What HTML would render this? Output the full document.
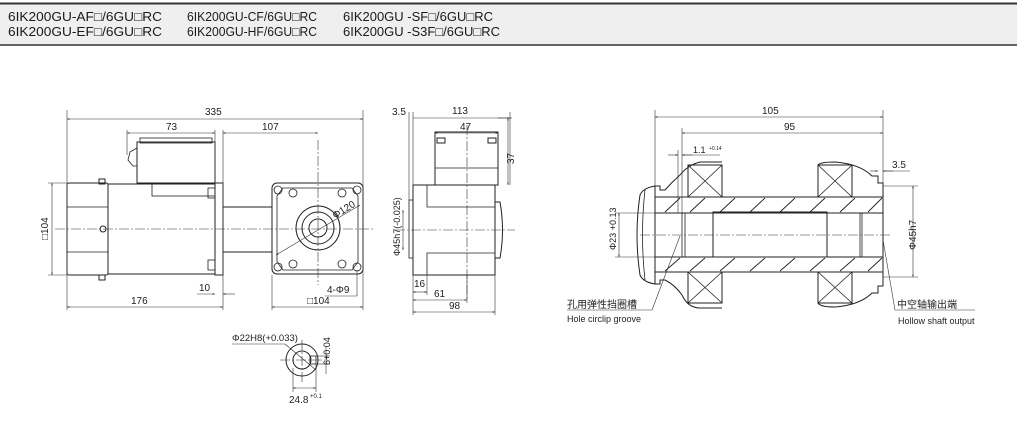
<!DOCTYPE html>
<html><head><meta charset="utf-8"><style>
html,body{margin:0;padding:0;background:#fff;}
svg{display:block;font-family:"Liberation Sans","Noto Sans CJK SC",sans-serif;}
.o{stroke:#222;stroke-width:1;fill:none}
.t{stroke:#222;stroke-width:0.8;fill:none}
.d{stroke:#333;stroke-width:0.6;fill:none}
.c{stroke:#333;stroke-width:0.6;fill:none;stroke-dasharray:10 2 2 2}
.h{stroke:#222;stroke-width:0.9}
text{fill:#222;font-size:10px}
.hd{font-size:12.5px;fill:#1a1a1a}
</style></head><body>
<svg width="1017" height="431" viewBox="0 0 1017 431">
<defs>
<marker id="a" viewBox="0 0 10 10" refX="10" refY="5" markerWidth="6" markerHeight="4" orient="auto-start-reverse"><path d="M0,2 L10,5 L0,8z" fill="#222"/></marker>
</defs>
<rect x="0" y="3" width="1017" height="42" fill="#efefef"/>
<line x1="0" y1="3.5" x2="1017" y2="3.5" stroke="#333" stroke-width="2"/>
<line x1="0" y1="45" x2="1017" y2="45" stroke="#333" stroke-width="1.5"/>
<text class="hd" x="8" y="21" textLength="154" lengthAdjust="spacingAndGlyphs">6IK200GU-AF□/6GU□RC</text>
<text class="hd" x="8" y="36" textLength="154" lengthAdjust="spacingAndGlyphs">6IK200GU-EF□/6GU□RC</text>
<text class="hd" x="187" y="21" textLength="130" lengthAdjust="spacingAndGlyphs">6IK200GU-CF/6GU□RC</text>
<text class="hd" x="187" y="36" textLength="130" lengthAdjust="spacingAndGlyphs">6IK200GU-HF/6GU□RC</text>
<text class="hd" x="343" y="21" textLength="150" lengthAdjust="spacingAndGlyphs">6IK200GU -SF□/6GU□RC</text>
<text class="hd" x="343" y="36" textLength="157" lengthAdjust="spacingAndGlyphs">6IK200GU -S3F□/6GU□RC</text>

<g>
<rect class="o" x="67" y="183" width="41" height="92" rx="2"/>
<line class="t" x1="67" y1="207" x2="108" y2="207"/><line class="t" x1="67" y1="252" x2="108" y2="252"/>
<rect class="o" x="99" y="179" width="6" height="5" fill="#333"/><rect class="o" x="99" y="275" width="6" height="5" fill="#333"/>
<circle class="o" cx="103" cy="229" r="3"/>
<rect class="o" x="108" y="184" width="107" height="90"/>
<rect class="t" x="152" y="184" width="63" height="12"/>
<rect class="o" x="137" y="142" width="78" height="41"/>
<rect class="t" x="140" y="138" width="72" height="5"/>
<path class="t" d="M137,148 L130,152 L128,160 L133,166 L137,166"/>
<rect class="o" x="215" y="183" width="8" height="92"/>
<rect class="t" x="208" y="188" width="7" height="10"/><rect class="t" x="208" y="260" width="7" height="10"/>
<rect class="o" x="223" y="207" width="49" height="45"/>
<line class="t" x1="223" y1="183" x2="223" y2="275"/>
<rect class="o" x="272" y="183" width="91" height="91" rx="5"/>
<path class="t" d="M283,188 L352,188 L358,196 L358,262 L352,270 L283,270 L277,262 L277,196z"/>
<circle class="t" cx="278" cy="190" r="4"/><circle class="t" cx="357" cy="190" r="4"/><circle class="t" cx="278" cy="267" r="4"/><circle class="t" cx="357" cy="267" r="4"/>
<circle class="t" cx="293" cy="193" r="4"/><circle class="t" cx="342" cy="193" r="4"/><circle class="t" cx="293" cy="264" r="4"/><circle class="t" cx="342" cy="264" r="4"/>
<circle class="o" cx="318" cy="228" r="22"/><circle class="o" cx="318" cy="228" r="16"/><circle class="o" cx="318" cy="228" r="9"/>
<line class="d" x1="276" y1="255" x2="360" y2="205" marker-start="url(#a)" marker-end="url(#a)"/>
<text x="335" y="219" transform="rotate(-32 335 219)">Φ120</text>
<line class="c" x1="55" y1="229" x2="375" y2="229"/>
<line class="c" x1="318" y1="140" x2="318" y2="285"/>
<line class="d" x1="67" y1="110" x2="67" y2="310"/><line class="d" x1="363" y1="110" x2="363" y2="310"/>
<line class="d" x1="67" y1="119" x2="363" y2="119" marker-start="url(#a)" marker-end="url(#a)"/><text x="205" y="115">335</text>
<line class="d" x1="127" y1="130" x2="127" y2="155"/><line class="d" x1="215" y1="130" x2="215" y2="183"/>
<line class="d" x1="127" y1="133" x2="215" y2="133" marker-start="url(#a)" marker-end="url(#a)"/><text x="166" y="130">73</text>
<line class="d" x1="223" y1="130" x2="223" y2="310"/>
<line class="d" x1="223" y1="133" x2="318" y2="133" marker-start="url(#a)" marker-end="url(#a)"/><text x="262" y="130">107</text>
<line class="d" x1="67" y1="307" x2="223" y2="307" marker-start="url(#a)" marker-end="url(#a)"/><text x="131" y="304">176</text>
<line class="d" x1="272" y1="275" x2="272" y2="310"/>
<line class="d" x1="272" y1="307" x2="363" y2="307" marker-start="url(#a)" marker-end="url(#a)"/><text x="307" y="304">□104</text>
<line class="d" x1="197" y1="294" x2="215" y2="294" marker-end="url(#a)"/><line class="d" x1="235" y1="294" x2="223" y2="294" marker-end="url(#a)"/><text x="199" y="291">10</text>
<line class="d" x1="357" y1="270" x2="357" y2="296"/><line class="d" x1="325" y1="296" x2="357" y2="296"/><text x="327" y="293">4-Φ9</text>
<line class="d" x1="48" y1="183" x2="67" y2="183"/><line class="d" x1="48" y1="275" x2="67" y2="275"/>
<line class="d" x1="52" y1="183" x2="52" y2="275" marker-start="url(#a)" marker-end="url(#a)"/>
<text x="48" y="240" transform="rotate(-90 48 240)">□104</text>
</g>

<g>
<rect class="o" x="413" y="185" width="82" height="90"/>
<rect class="t" x="409" y="200" width="4" height="58"/>
<path class="t" d="M427,185 L427,207 L495,207 M427,275 L427,253 L495,253"/>
<rect class="o" x="435" y="132" width="63" height="53"/>
<line class="t" x1="435" y1="168" x2="498" y2="168"/>
<rect class="o" x="437" y="138" width="8" height="5" fill="#444"/><rect class="o" x="488" y="138" width="8" height="5" fill="#444"/>
<path class="o" d="M495,202 L500,202 Q505,230 500,258 L495,258"/>
<line class="c" x1="395" y1="230" x2="515" y2="230"/>
<line class="c" x1="467" y1="125" x2="467" y2="300"/>
<line class="d" x1="409" y1="112" x2="409" y2="200"/><line class="d" x1="413" y1="112" x2="413" y2="185"/>
<text x="392" y="115">3.5</text>
<line class="d" x1="413" y1="118" x2="510" y2="118" marker-end="url(#a)"/><text x="452" y="114">113</text>
<line class="d" x1="510" y1="112" x2="510" y2="185"/>
<line class="d" x1="435" y1="133" x2="498" y2="133" marker-start="url(#a)" marker-end="url(#a)"/><text x="460" y="130">47</text>
<line class="d" x1="498" y1="118" x2="512" y2="118"/>
<line class="d" x1="508" y1="118" x2="508" y2="185" marker-start="url(#a)" marker-end="url(#a)"/>
<text x="514" y="164" transform="rotate(-90 514 164)">37</text>
<line class="d" x1="403" y1="210" x2="403" y2="250" marker-start="url(#a)" marker-end="url(#a)"/>
<text x="400" y="256" transform="rotate(-90 400 256)" style="font-size:9px">Φ45h7(-0.025)</text>
<line class="d" x1="413" y1="275" x2="413" y2="315"/><line class="d" x1="427" y1="275" x2="427" y2="295"/><line class="d" x1="467" y1="275" x2="467" y2="303"/><line class="d" x1="495" y1="275" x2="495" y2="315"/>
<line class="d" x1="413" y1="292" x2="427" y2="292" marker-start="url(#a)" marker-end="url(#a)"/><text x="414" y="287">16</text>
<line class="d" x1="413" y1="300" x2="467" y2="300" marker-start="url(#a)" marker-end="url(#a)"/><text x="434" y="297">61</text>
<line class="d" x1="413" y1="312" x2="495" y2="312" marker-start="url(#a)" marker-end="url(#a)"/><text x="449" y="309">98</text>
</g>

<g>
<circle class="o" cx="302" cy="360" r="16"/><circle class="o" cx="302" cy="360" r="9"/>
<rect class="t" x="310" y="356" width="6" height="8"/>
<line class="c" x1="280" y1="360" x2="325" y2="360"/><line class="c" x1="302" y1="340" x2="302" y2="382"/>
<line class="d" x1="232" y1="344" x2="285" y2="344"/><line class="d" x1="285" y1="344" x2="316" y2="370"/>
<text x="232" y="341" style="font-size:9.5px">Φ22H8(+0.033)</text>
<line class="d" x1="293" y1="368" x2="293" y2="392"/><line class="d" x1="316" y1="364" x2="316" y2="392"/>
<line class="d" x1="293" y1="388" x2="316" y2="388" marker-start="url(#a)" marker-end="url(#a)"/>
<text x="289" y="403">24.8</text><text x="310" y="398" style="font-size:6px">+0.1</text>
<line class="d" x1="316" y1="356" x2="330" y2="356"/><line class="d" x1="316" y1="364" x2="330" y2="364"/>
<line class="d" x1="326" y1="346" x2="326" y2="374"/>
<text x="330" y="365" transform="rotate(-90 330 365)" style="font-size:9px">6+0.04</text>
</g>

<g>
<path class="o" d="M655,197 L655,186 Q643,188 640,195 Q634,235 640,275 Q643,282 655,284 L655,272"/>
<path class="t" d="M645,190 Q640,235 645,280"/>
<path class="o" d="M655,186 L660,186 L660,190 L665,190 Q672,182 680,175 Q688,165 700,162 L722,162"/>
<path class="o" d="M655,284 L660,284 L660,280 L665,280 Q675,285 682,295 Q688,308 700,308 L722,308"/>
<rect class="o" x="688" y="165" width="34" height="32"/><path class="t" d="M688,165 L722,197 M722,165 L688,197"/>
<rect class="o" x="688" y="272" width="34" height="31"/><path class="t" d="M688,272 L722,303 M722,272 L688,303"/>
<rect class="o" x="818" y="165" width="34" height="32"/><path class="t" d="M818,165 L852,197 M852,165 L818,197"/>
<rect class="o" x="818" y="272" width="34" height="31"/><path class="t" d="M818,272 L852,303 M852,272 L818,303"/>
<path class="o" d="M818,165 Q820,162 835,162 Q860,164 872,176 L878,176 L878,183 L883,183 L883,197"/>
<path class="o" d="M818,303 Q820,307 835,307 Q860,305 872,293 L878,293 L878,286 L883,286 L883,272"/>
<rect class="o" x="655" y="197" width="228" height="75"/>
<line class="o" x1="655" y1="213" x2="883" y2="213"/><line class="o" x1="655" y1="257" x2="883" y2="257"/>
<rect class="o" x="713" y="212" width="114" height="45"/>
<line class="t" x1="682" y1="213" x2="682" y2="257"/><line class="t" x1="685" y1="213" x2="685" y2="257"/>
<line class="t" x1="860" y1="213" x2="860" y2="257"/><line class="t" x1="862" y1="213" x2="862" y2="257"/>
<g class="h">
<line x1="665" y1="212" x2="680" y2="198"/><line x1="690" y1="212" x2="705" y2="198"/><line x1="720" y1="212" x2="735" y2="198"/><line x1="750" y1="212" x2="765" y2="198"/><line x1="780" y1="212" x2="795" y2="198"/><line x1="810" y1="212" x2="825" y2="198"/><line x1="840" y1="212" x2="855" y2="198"/><line x1="868" y1="212" x2="882" y2="198"/>
<line x1="665" y1="271" x2="680" y2="258"/><line x1="690" y1="271" x2="705" y2="258"/><line x1="720" y1="271" x2="735" y2="258"/><line x1="750" y1="271" x2="765" y2="258"/><line x1="780" y1="271" x2="795" y2="258"/><line x1="810" y1="271" x2="825" y2="258"/><line x1="840" y1="271" x2="855" y2="258"/><line x1="868" y1="271" x2="882" y2="258"/>
</g>
<line class="c" x1="640" y1="235" x2="890" y2="235"/>
<line class="d" x1="655" y1="110" x2="655" y2="186"/><line class="d" x1="883" y1="110" x2="883" y2="183"/>
<line class="d" x1="655" y1="117" x2="883" y2="117" marker-start="url(#a)" marker-end="url(#a)"/><text x="762" y="114">105</text>
<line class="d" x1="682" y1="128" x2="682" y2="213"/>
<line class="d" x1="682" y1="133" x2="883" y2="133" marker-start="url(#a)" marker-end="url(#a)"/><text x="784" y="130">95</text>
<line class="d" x1="678" y1="150" x2="678" y2="213"/>
<line class="d" x1="668" y1="155" x2="678" y2="155" marker-end="url(#a)"/><line class="d" x1="692" y1="155" x2="682" y2="155" marker-end="url(#a)"/>
<line class="d" x1="682" y1="155" x2="720" y2="155"/><text x="693" y="153" style="font-size:9px">1.1</text><text x="709" y="150" style="font-size:5px">+0.14</text>
<line class="d" x1="870" y1="171" x2="878" y2="171" marker-end="url(#a)"/><line class="d" x1="893" y1="171" x2="883" y2="171" marker-end="url(#a)"/>
<line class="d" x1="883" y1="171" x2="910" y2="171"/><text x="892" y="168">3.5</text>
<line class="d" x1="883" y1="186" x2="918" y2="186"/><line class="d" x1="883" y1="277" x2="918" y2="277"/>
<line class="d" x1="913" y1="186" x2="913" y2="277" marker-start="url(#a)" marker-end="url(#a)"/>
<text x="916" y="250" transform="rotate(-90 916 250)">Φ45h7</text>
<line class="d" x1="615" y1="213" x2="655" y2="213"/><line class="d" x1="615" y1="257" x2="655" y2="257"/>
<line class="d" x1="619" y1="213" x2="619" y2="257" marker-start="url(#a)" marker-end="url(#a)"/>
<text x="616" y="250" transform="rotate(-90 616 250)" style="font-size:9px">Φ23 +0.13</text>
<line class="d" x1="680" y1="236" x2="652" y2="310"/><line class="d" x1="567" y1="310" x2="652" y2="310"/>
<text x="567" y="308" style="font-size:10px">孔用弹性挡圈槽</text>
<text x="567" y="322" style="font-size:9px">Hole circlip groove</text>
<line class="d" x1="883" y1="240" x2="895" y2="310"/><line class="d" x1="895" y1="310" x2="975" y2="310"/>
<text x="897" y="308" style="font-size:10px">中空轴输出端</text>
<text x="898" y="324" style="font-size:9px">Hollow shaft output</text>
</g>
</svg>
</body></html>
